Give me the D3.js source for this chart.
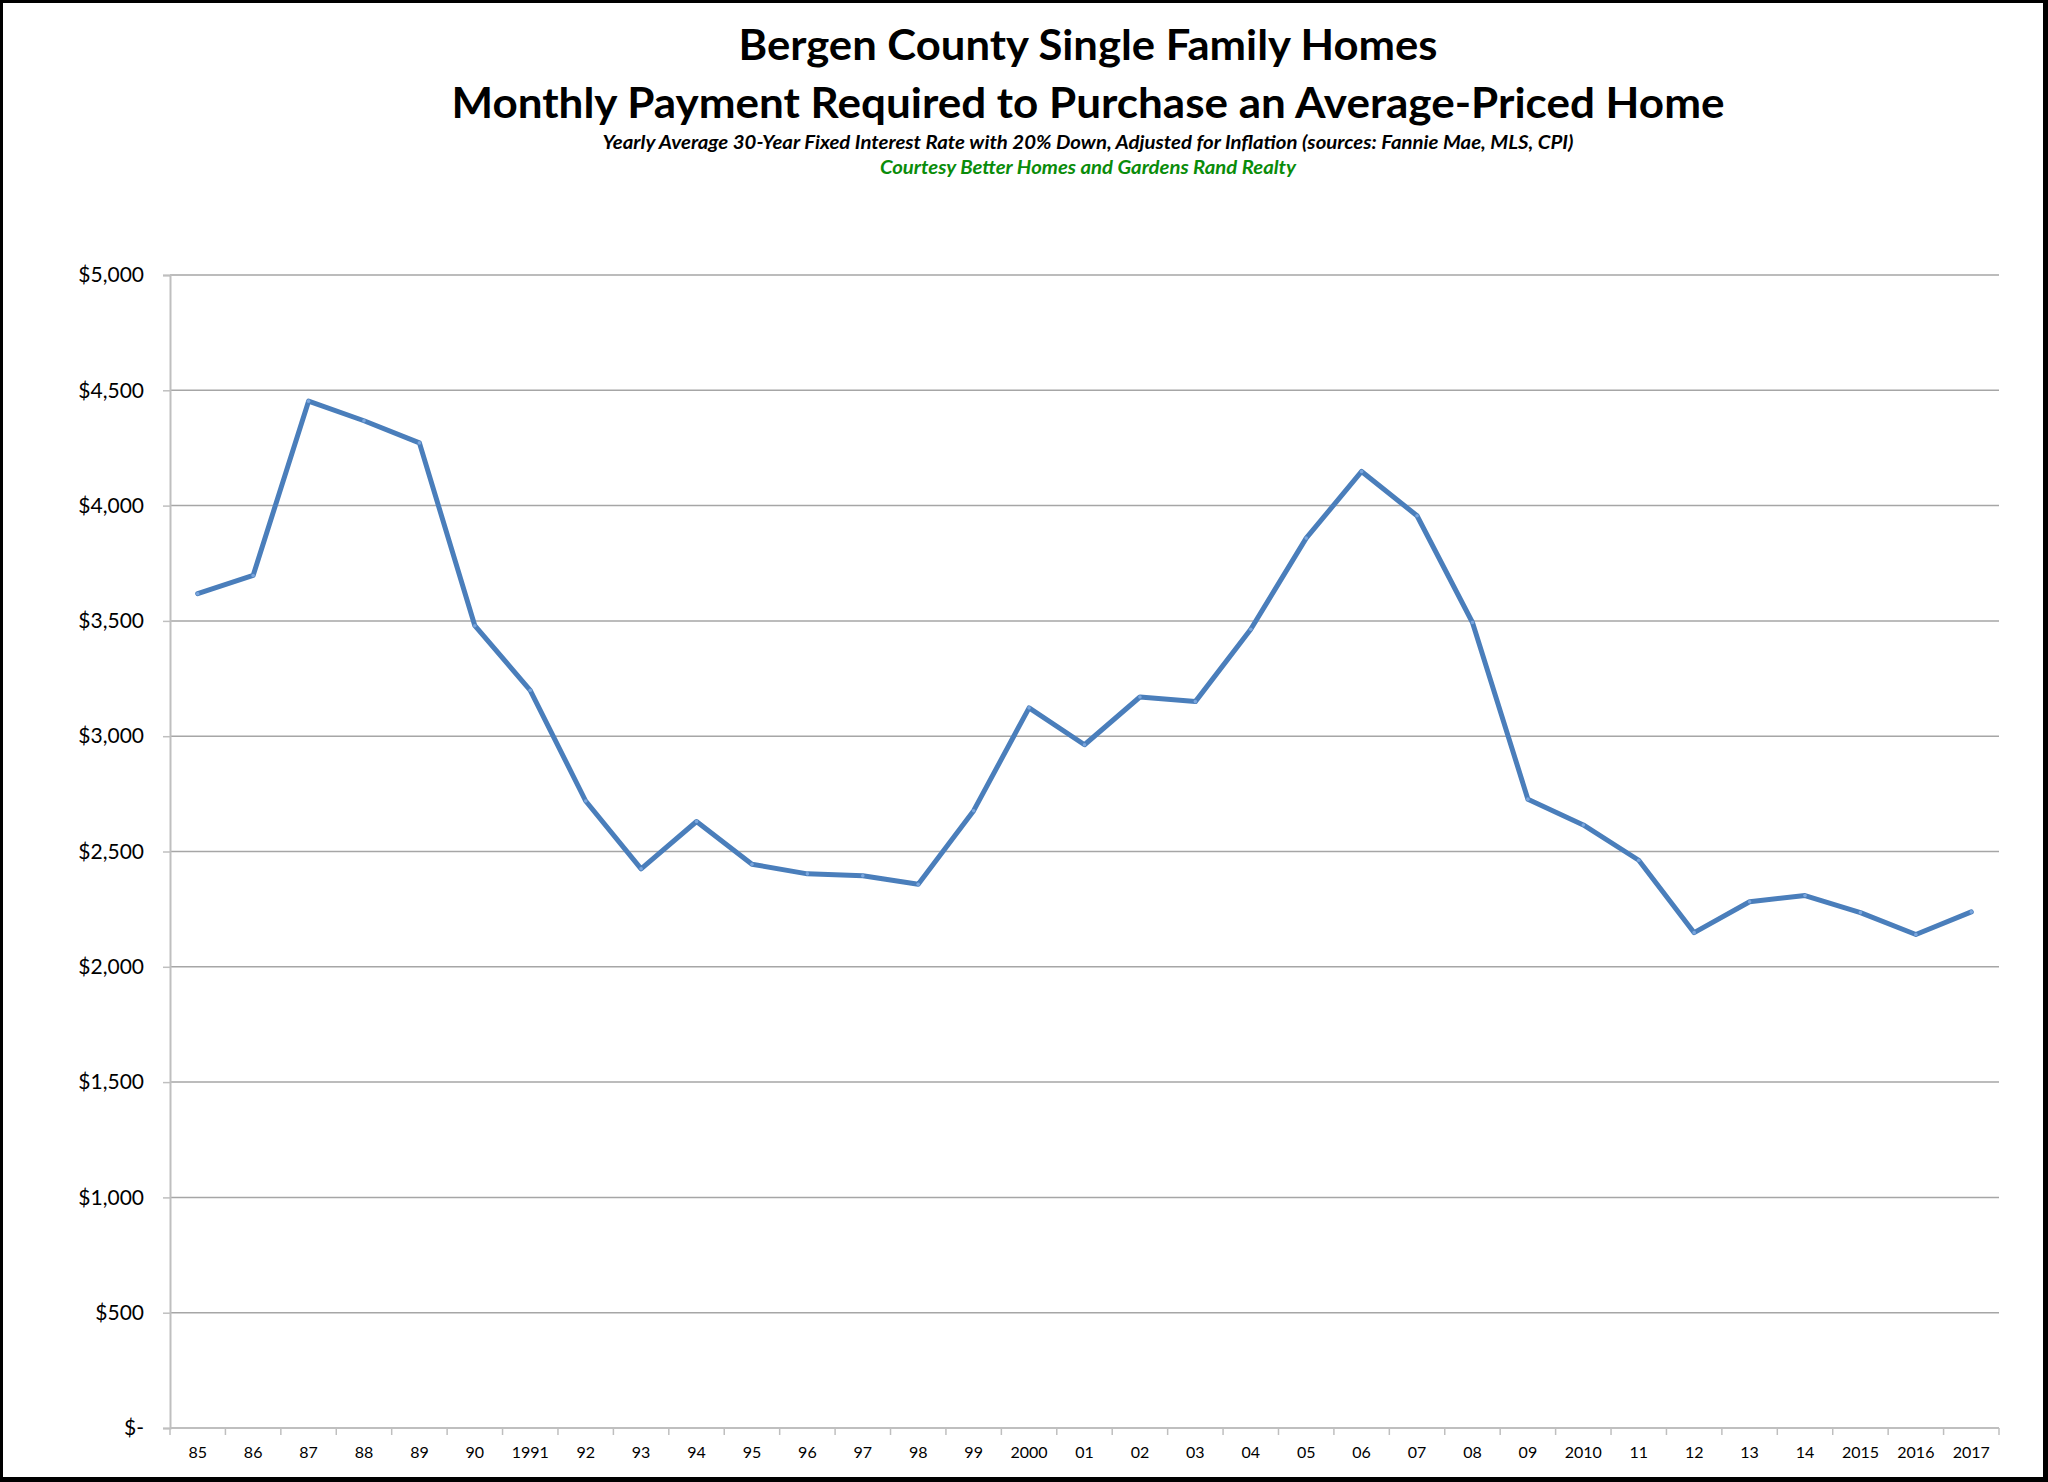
<!DOCTYPE html>
<html>
<head>
<meta charset="utf-8">
<script src="https://cdn.jsdelivr.net/npm/d3@7"></script>
<style>
  body { margin: 0; background: #fff; }
  svg { display: block; }
</style>
</head>
<body>
<script>
// chart data
var years = ["85","86","87","88","89","90","1991","92","93","94","95","96","97","98","99",
  "2000","01","02","03","04","05","06","07","08","09","2010","11","12","13","14","2015","2016","2017"];
var payments = [3618, 3697, 4453, 4368, 4272, 3479, 3199, 2719, 2425, 2630, 2445, 2403, 2395, 2358, 2677,
  3123, 2963, 3170, 3150, 3464, 3859, 4148, 3956, 3493, 2727, 2615, 2462, 2148, 2282, 2309, 2235, 2140, 2238];
var yTicks = [0, 500, 1000, 1500, 2000, 2500, 3000, 3500, 4000, 4500, 5000];

var w = 2048, h = 1482;
// plot box (window.top is reserved, hence the prefixes)
var plotL = 170, plotR = 1999, plotT = 275, plotB = 1428;

var x = d3.scaleBand().domain(years).range([plotL, plotR]).padding(0);
var y = d3.scaleLinear().domain([0, 5000]).range([plotB, plotT]);

var fmt = function (d) { return d === 0 ? "$-" : "$" + d3.format(",")(d); };

const svg = d3.select("body").append("svg").attr("width", w).attr("height", h);

// frame
svg.append("rect").attr("width", w).attr("height", h).attr("fill", "#000");
svg.append("rect").attr("x", 3).attr("y", 3).attr("width", w - 8).attr("height", h - 8).attr("fill", "#fff");

// titles
var cx = 1088;
var titles = [
  {t: "Bergen County Single Family Homes", y: 60, size: 42, len: 699, style: "normal", color: "#000"},
  {t: "Monthly Payment Required to Purchase an Average-Priced Home", y: 118, size: 42, len: 1273, style: "normal", color: "#000"},
  {t: "Yearly Average 30-Year Fixed Interest Rate with 20% Down, Adjusted for Inflation (sources: Fannie Mae, MLS, CPI)", y: 149, size: 18, len: 971, style: "italic", color: "#000"},
  {t: "Courtesy Better Homes and Gardens Rand Realty", y: 174, size: 18, len: 416, style: "italic", color: "#0a8c0a"}
];
svg.selectAll("text.title").data(titles).enter().append("text")
  .attr("class", "title")
  .attr("x", cx).attr("y", function (d) { return d.y; })
  .attr("text-anchor", "middle")
  .attr("font-family", "Lato, 'Open Sans', sans-serif")
  .attr("font-weight", "bold")
  .attr("font-style", function (d) { return d.style; })
  .attr("font-size", function (d) { return d.size; })
  .attr("fill", function (d) { return d.color; })
  .attr("textLength", function (d) { return d.len; })
  .attr("lengthAdjust", "spacingAndGlyphs")
  .text(function (d) { return d.t; });

// gridlines
svg.append("g").selectAll("line").data(yTicks.filter(function (d) { return d > 0; })).enter().append("line")
  .attr("x1", plotL).attr("x2", plotR)
  .attr("y1", function (d) { return y(d); }).attr("y2", function (d) { return y(d); })
  .attr("stroke", "#a6a6a6").attr("stroke-width", 1.5);

// y axis
var yAxis = svg.append("g").attr("transform", "translate(" + plotL + ",0)")
  .call(d3.axisLeft(y).tickValues(yTicks).tickFormat(fmt).tickSize(7).tickPadding(19));
yAxis.select(".domain").attr("stroke", "#bfbfbf").attr("stroke-width", 2);
yAxis.selectAll(".tick line").attr("stroke", "#bfbfbf").attr("stroke-width", 1.5);
yAxis.selectAll("text").attr("font-family", "Lato, sans-serif").attr("font-size", 21).attr("fill", "#000");

// x axis, labels centred in each band, ticks on the band edges
var xAxis = svg.append("g").attr("transform", "translate(0," + plotB + ")")
  .call(d3.axisBottom(x).tickSize(0).tickPadding(19));
xAxis.select(".domain").remove();
xAxis.selectAll("text").attr("font-family", "Lato, sans-serif").attr("font-size", 16).attr("fill", "#000");
svg.append("line").attr("x1", plotL).attr("x2", plotR).attr("y1", plotB).attr("y2", plotB)
  .attr("stroke", "#bfbfbf").attr("stroke-width", 2);
var edges = years.map(function (d) { return x(d); }).concat([plotR]);
svg.append("g").selectAll("line").data(edges).enter().append("line")
  .attr("x1", function (d) { return d; }).attr("x2", function (d) { return d; })
  .attr("y1", plotB).attr("y2", plotB + 7)
  .attr("stroke", "#bfbfbf").attr("stroke-width", 1.5);

// the series
var line = d3.line()
  .x(function (d, i) { return x(years[i]) + x.bandwidth() / 2; })
  .y(function (d) { return y(d); });
svg.append("path").datum(payments)
  .attr("d", line)
  .attr("fill", "none")
  .attr("stroke", "#4a7ebb")
  .attr("stroke-width", 5)
  .attr("stroke-linejoin", "round")
  .attr("stroke-linecap", "round");
svg.append("g").selectAll("circle").data(payments).enter().append("circle")
  .attr("cx", function (d, i) { return x(years[i]) + x.bandwidth() / 2; })
  .attr("cy", function (d) { return y(d); })
  .attr("r", 1.8)
  .attr("fill", "#7aa6de");
</script>
</body>
</html>
